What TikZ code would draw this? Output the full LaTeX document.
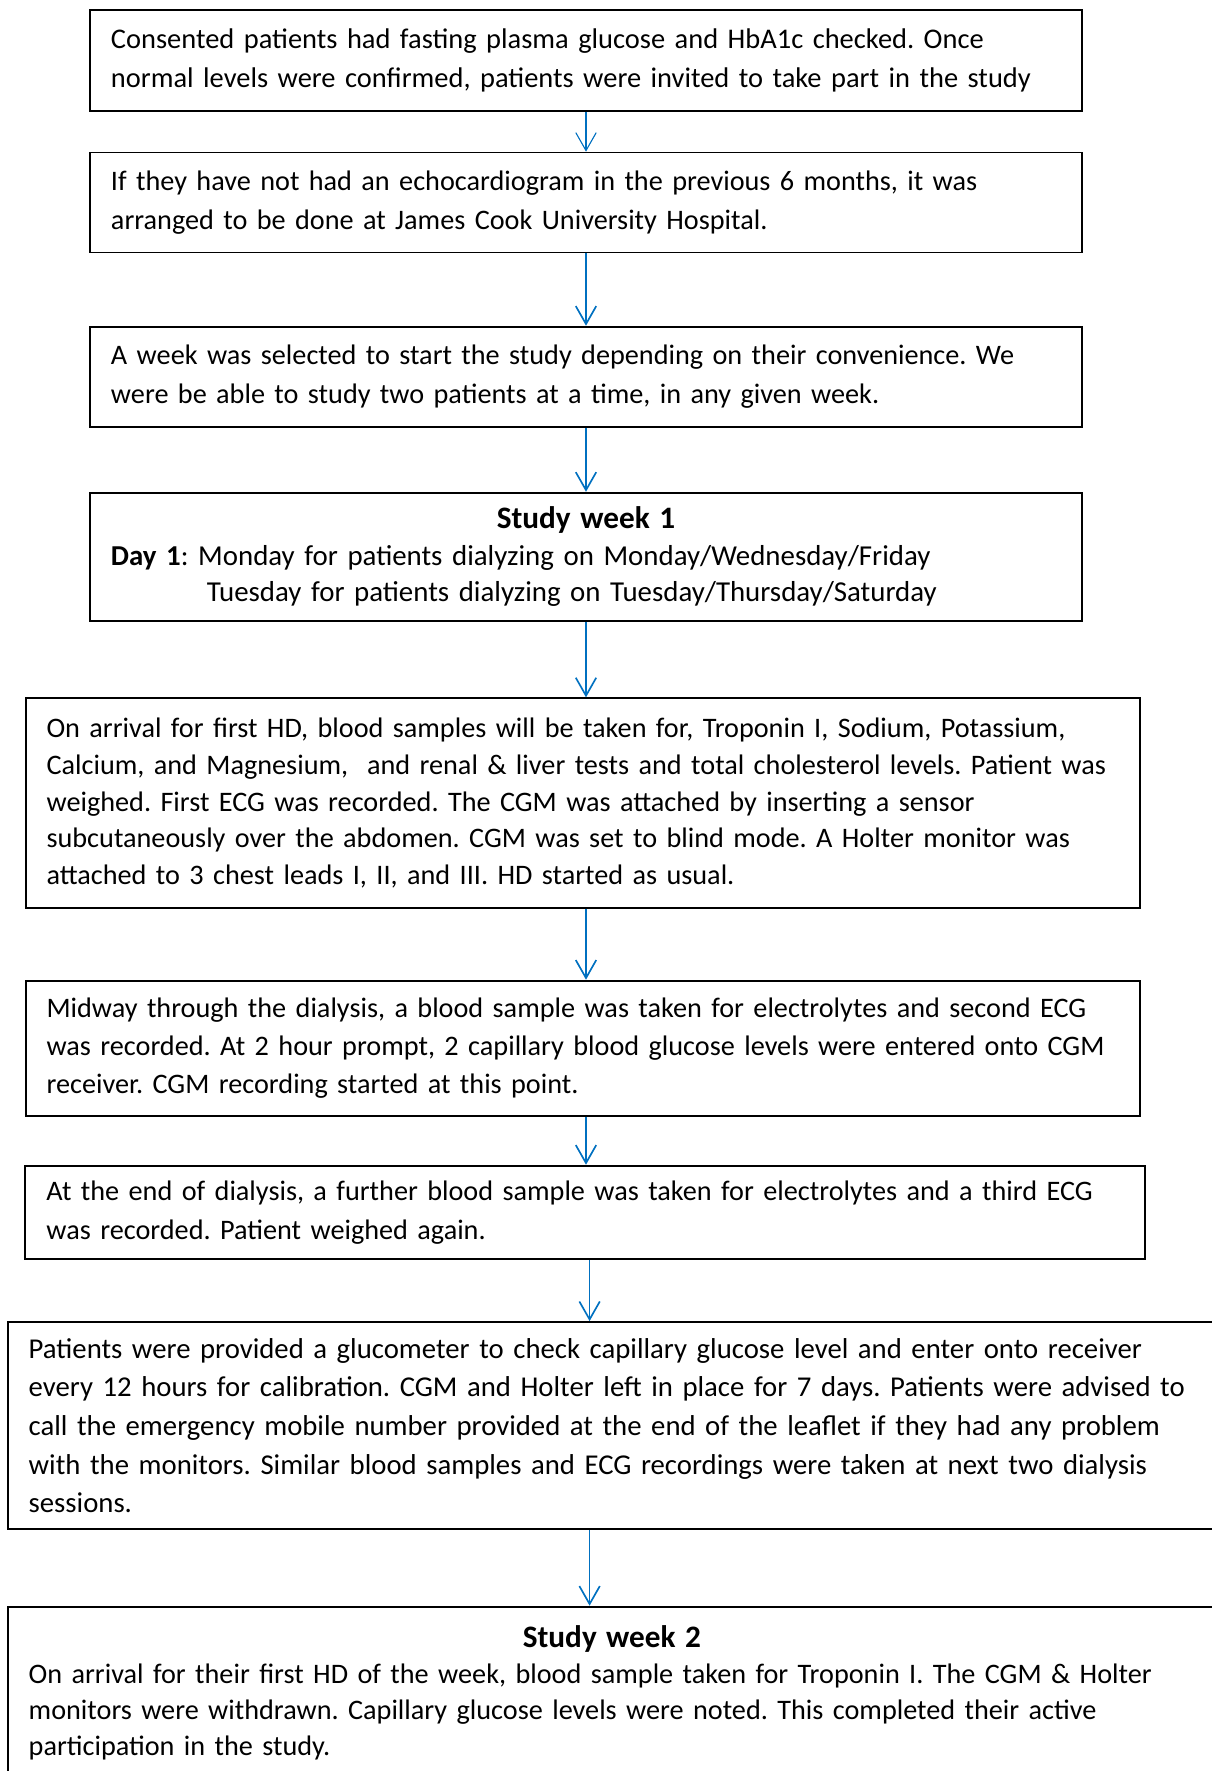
\documentclass[tikz,border=0pt]{standalone}
\usepackage{fontspec}
\setmainfont{Carlito}
\usepackage{tikz}
\tikzset{every picture/.style={x=0.362pt, y=-0.362pt}}
\usetikzlibrary{arrows.meta}
\definecolor{arrowblue}{RGB}{0,112,192}
\frenchspacing
\newcommand{\boxfont}[2]{\fontsize{#1}{#2}\selectfont
  \spaceskip=0.226em minus 0.05em\relax\linepenalty=3000\relax}
\tikzset{stepbox/.style={draw, line width=0.7pt, align=left, inner xsep=7.6pt, inner ysep=0pt,
    font=\boxfont{10.22}{13.9}},
  flow/.style={arrowblue, line width=0.6pt, -{Straight Barb[length=6.5pt, width=7.4pt]}}}
\newcommand{\weekhead}[1]{\makebox[\linewidth]{\fontsize{11.3}{13.4}\selectfont\bfseries #1}}

\begin{document}
\begin{tikzpicture}
    \clip (0,0) rectangle (1212,1771);
    % boxes
    \node[stepbox, font=\boxfont{10.3}{13.9}, text width=343.9pt, minimum height=36.45pt] (b1) at (586,60.4)
      {Consented patients had fasting plasma glucose and HbA1c checked. Once\\
       normal levels were confirmed, patients were invited to take part in the study};
    \node[stepbox, line width=0.5pt, text width=343.9pt, minimum height=36.3pt] (b2) at (586,202.5)
      {If they have not had an echocardiogram in the previous 6 months, it was\\
       arranged to be done at James Cook University Hospital.};
    \node[stepbox, text width=343.9pt, minimum height=36.2pt] (b3) at (586,376.7)
      {A week was selected to start the study depending on their convenience. We\\
       were be able to study two patients at a time, in any given week.};
    \node[stepbox, font=\boxfont{10.45}{13.1}, text width=343.9pt, minimum height=46.3pt] (b4) at (586,556.7)
      {\weekhead{Study week 1}\\
       \textbf{Day 1}: Monday for patients dialyzing on Monday/Wednesday/Friday\\
       \hspace*{34.7pt}Tuesday for patients dialyzing on Tuesday/Thursday/Saturday};
    \node[stepbox, font=\boxfont{10.22}{13.25}, text width=388.2pt, minimum height=75.8pt] (b5) at (582.75,803)
      {On arrival for first HD, blood samples will be taken for, Troponin I, Sodium, Potassium,\\
       Calcium, and Magnesium,~ and renal \& liver tests and total cholesterol levels. Patient was\\
       weighed. First ECG was recorded. The CGM was attached by inserting a sensor\\
       subcutaneously over the abdomen. CGM was set to blind mode. A Holter monitor was\\
       attached to 3 chest leads I, II, and III. HD started as usual.};
    \node[stepbox, text width=388.2pt, minimum height=48.9pt] (b6) at (582.75,1048.2)
      {Midway through the dialysis, a blood sample was taken for electrolytes and second ECG\\
       was recorded. At 2 hour prompt, 2 capillary blood glucose levels were entered onto CGM\\
       receiver. CGM recording started at this point.};
    \node[stepbox, text width=390.2pt, minimum height=33.9pt] (b7) at (585.4,1212.5)
      {At the end of dialysis, a further blood sample was taken for electrolytes and a third ECG\\
       was recorded. Patient weighed again.};
    \node[stepbox, font=\boxfont{10.4}{14}, text width=422.2pt, minimum height=75pt] (b8) at (611.85,1425.65)
      {Patients were provided a glucometer to check capillary glucose level and enter onto receiver\\
       every 12 hours for calibration. CGM and Holter left in place for 7 days. Patients were advised to\\
       call the emergency mobile number provided at the end of the leaflet if they had any problem\\
       with the monitors. Similar blood samples and ECG recordings were taken at next two dialysis\\
       sessions.};
    \node[stepbox, font=\boxfont{10.22}{13.1}, text width=422.2pt, minimum height=62.4pt] (b9) at (611.85,1692.85)
      {\weekhead{Study week 2}\\
       On arrival for their first HD of the week, blood sample taken for Troponin I. The CGM \& Holter\\
       monitors were withdrawn. Capillary glucose levels were noted. This completed their active\\
       participation in the study.};
    % arrows
    \draw[flow, line width=0.4pt] (b1) -- (b2);
    \draw[flow] (b2) -- (b3);
    \draw[flow] (b3) -- (b4);
    \draw[flow] (b4.south) -- (b5.north -| b4.south);
    \draw[flow] (b5.south -| b4.south) -- (b6.north -| b4.south);
    \draw[flow] (b6.south -| b4.south) -- (b7.north -| b4.south);
    \draw[flow] ([xshift=1.3pt]b7.south -| b4.south) -- ([xshift=1.3pt]b8.north -| b4.south);
    \draw[flow] ([xshift=1.3pt]b8.south -| b4.south) -- ([xshift=1.3pt]b9.north -| b4.south);
\end{tikzpicture}
\end{document}
